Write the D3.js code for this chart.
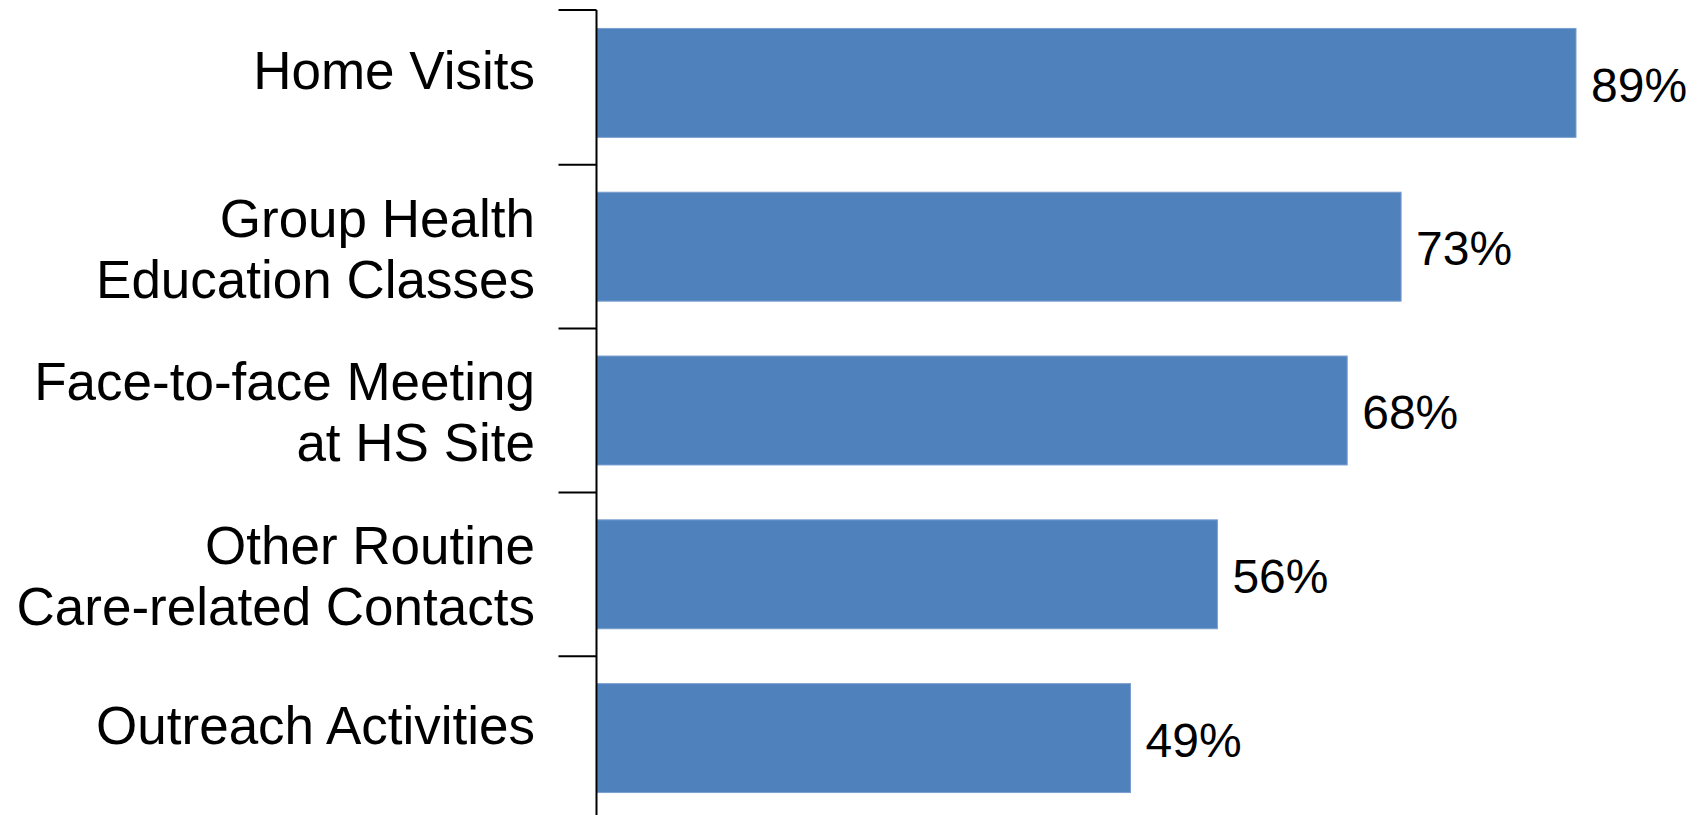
<!DOCTYPE html>
<html>
<head>
<meta charset="utf-8">
<script src="https://cdn.jsdelivr.net/npm/d3@7"></script>
<style>
  html, body { margin: 0; padding: 0; background: #ffffff; }
  svg { display: block; }
  text { font-family: "Liberation Sans", Arial, sans-serif; fill: #000; }
</style>
</head>
<body>
<svg id="chart" width="1706" height="815"></svg>
<script>
const categories = [
  "Home Visits",
  "Group Health\nEducation Classes",
  "Face-to-face Meeting\nat HS Site",
  "Other Routine\nCare-related Contacts",
  "Outreach Activities"
];
const values = [89, 73.1, 68.2, 56.4, 48.5];
const valueLabels = ["89%", "73%", "68%", "56%", "49%"];

const W = 1706, H = 815;
const svg = d3.select("#chart");

const x = d3.scaleLinear().domain([0, 100]).range([597, 1697]);
const y = d3.scaleBand().domain(categories).range([1, 820])
  .paddingInner(0.335).paddingOuter(0.1675);

const catFont = 53;
const valFont = 48;
const lineGap = 61;

// bars
svg.append("g").selectAll("rect")
  .data(values)
  .join("rect")
  .attr("x", x(0))
  .attr("y", (d, i) => y(categories[i]))
  .attr("width", d => x(d) - x(0))
  .attr("height", y.bandwidth())
  .attr("fill", "#4F81BD")
  .attr("stroke", "#7A9FCF")
  .attr("stroke-width", 1);

// axis line and category boundary ticks
const axisX = x(0) - 0.5;
const axisTop = 10;
const g = svg.append("g");
g.append("line")
  .attr("x1", axisX).attr("x2", axisX)
  .attr("y1", axisTop).attr("y2", H)
  .attr("stroke", "#000").attr("stroke-width", 2);

const step = y.step();
const boundaries = categories.map(c => Math.max(axisTop, y(c) - step * y.paddingInner() / 2));
g.selectAll("line.tick")
  .data(boundaries)
  .join("line")
  .attr("class", "tick")
  .attr("x1", axisX - 38).attr("x2", axisX)
  .attr("y1", d => d).attr("y2", d => d)
  .attr("stroke", "#000").attr("stroke-width", 2);

// category labels
const labelX = 535;
const capC = 0.716 * catFont;
const lbl = svg.append("g").selectAll("text")
  .data(categories)
  .join("text")
  .attr("text-anchor", "end")
  .attr("font-size", catFont);
lbl.each(function(c) {
  const lines = c.split("\n");
  const shift = lines.length === 1 ? -13 : 1.5;
  const cy = y(c) + y.bandwidth() / 2 + shift;
  const first = cy - (lines.length - 1) * lineGap / 2 + capC / 2;
  d3.select(this).selectAll("tspan")
    .data(lines)
    .join("tspan")
    .attr("x", labelX)
    .attr("y", (l, j) => first + j * lineGap)
    .text(l => l);
});

// value labels
const capV = 0.716 * valFont;
svg.append("g").selectAll("text")
  .data(values)
  .join("text")
  .attr("x", d => x(d) + 15)
  .attr("y", (d, i) => y(categories[i]) + y.bandwidth() / 2 + 1.5 + capV / 2)
  .attr("font-size", valFont)
  .text((d, i) => valueLabels[i]);
</script>
</body>
</html>
